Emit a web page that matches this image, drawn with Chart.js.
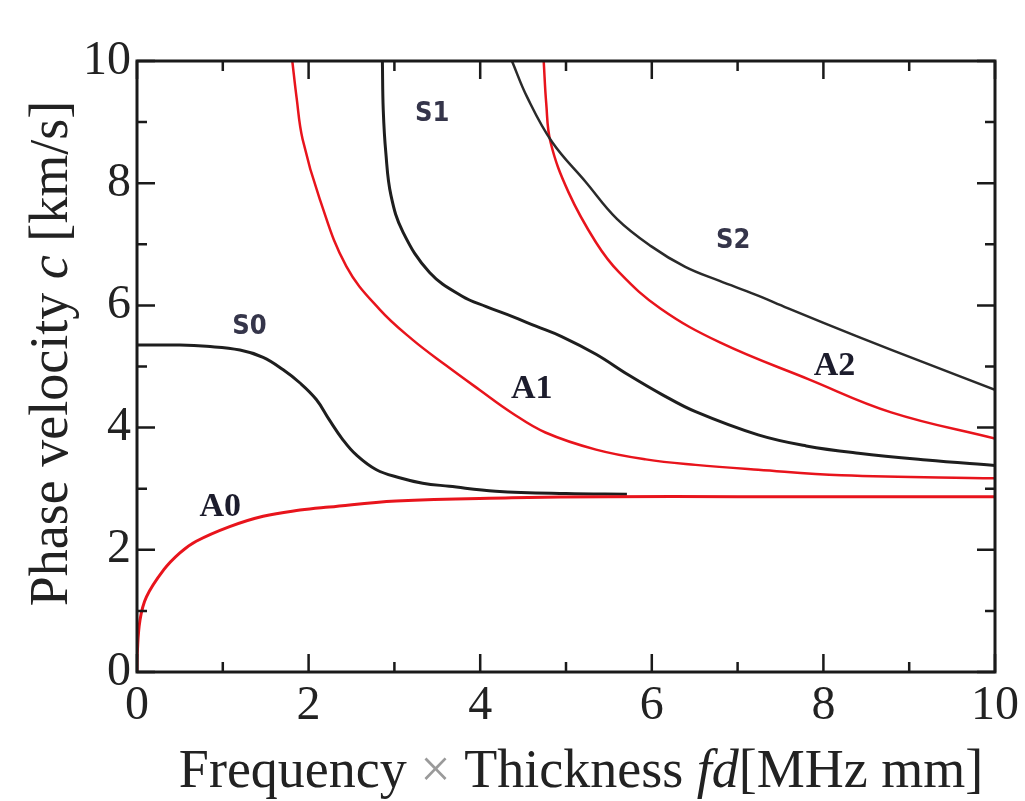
<!DOCTYPE html>
<html lang="en">
<head>
<meta charset="utf-8">
<title>Dispersion curves</title>
<style>
    html, body { margin: 0; padding: 0; background: #fff; }
    #wrap { width: 1025px; height: 801px; }
</style>
</head>
<body>
<div id="wrap">
    <canvas id="myChart" width="1025" height="801"></canvas>
</div>

<script src="https://cdn.jsdelivr.net/npm/chart.js"></script>
<script>
    // values: fd [MHz mm] -> phase velocity [km/s]
    const a0Fd = [0, 0.003, 0.035, 0.11, 0.31, 0.5, 0.69, 1.08, 1.47, 1.9, 2.24, 3.02, 4.37, 5.5, 7, 8.5, 10];
    const a0C  = [0, 0.3, 0.85, 1.23, 1.67, 1.95, 2.14, 2.38, 2.55, 2.65, 2.7, 2.8, 2.85, 2.87, 2.87, 2.87, 2.87];

    const s0Fd = [0, 0.5, 0.81, 1.2, 1.47, 1.7, 1.9, 2.09, 2.24, 2.4, 2.55, 2.79, 3.06, 3.33, 3.64, 4.18, 5, 5.71];
    const s0C  = [5.35, 5.35, 5.33, 5.27, 5.15, 4.95, 4.73, 4.46, 4.13, 3.8, 3.56, 3.31, 3.18, 3.09, 3.04, 2.96, 2.92, 2.91];

    const a1Fd = [1.81, 1.86, 1.93, 2.13, 2.44, 2.83, 3.21, 3.6, 3.99, 4.37, 4.76, 5.35, 5.93, 6.51, 7.24, 8.21, 10];
    const a1C  = [10, 9.4, 8.72, 7.74, 6.64, 5.93, 5.44, 5.02, 4.62, 4.24, 3.92, 3.64, 3.48, 3.39, 3.31, 3.22, 3.17];

    const s1Fd = [2.86, 2.87, 2.9, 2.96, 3.1, 3.41, 3.79, 4.07, 4.37, 4.65, 4.95, 5.35, 5.73, 6.12, 6.51, 7.24, 7.8, 8.41, 9.2, 10];
    const s1C  = [10, 9.2, 8.5, 7.8, 7.2, 6.54, 6.15, 5.98, 5.82, 5.66, 5.49, 5.2, 4.86, 4.54, 4.26, 3.88, 3.7, 3.58, 3.47, 3.38];

    const s2Fd = [4.37, 4.55, 4.84, 5.23, 5.59, 5.99, 6.39, 6.79, 7.2, 7.59, 8.4, 9.2, 10];
    const s2C  = [10, 9.4, 8.67, 8.02, 7.42, 6.97, 6.63, 6.4, 6.18, 5.95, 5.49, 5.05, 4.62];

    const a2Fd = [4.74, 4.77, 4.82, 5.03, 5.35, 5.62, 6.1, 6.8, 7.83, 8.79, 10];
    const a2C  = [10, 9.3, 8.67, 7.85, 7.03, 6.54, 5.95, 5.39, 4.79, 4.25, 3.82];

    // mode names and where they sit (in data units)
    const modeNames = ["S0", "S1", "S2", "A0", "A1", "A2"];
    const modeLabelFd = [1.31, 3.44, 6.95, 0.97, 4.6, 8.13];
    const modeLabelC  = [5.64, 9.13, 7.05, 2.7, 4.62, 5.0];

    const xTitle = [
        {t: "Frequency ", style: ""},
        {t: "\u00d7", style: "", color: "#9a9a9a"},
        {t: " Thickness ", style: ""},
        {t: "fd", style: "italic "},
        {t: "[MHz mm]", style: ""}
    ];
    const yTitle = [
        {t: "Phase velocity ", style: ""},
        {t: "c", style: "italic "},
        {t: " [km/s]", style: ""}
    ];

    const RED = "#e8141c";
    const BLACK = "#1e1e1e";
    const SERIF = "'Liberation Serif', 'DejaVu Serif', serif";

    function pts(xs, ys) {
        return xs.map(function (x, i) { return {x: x, y: ys[i]}; });
    }

    function curve(label, xs, ys, color, width) {
        return {
            label: label,
            data: pts(xs, ys),
            borderColor: color,
            backgroundColor: color,
            borderWidth: width,
            pointRadius: 0,
            fill: false,
            tension: 0.4
        };
    }

    function drawRich(ctx, parts, size, x, y) {
        var total = 0;
        parts.forEach(function (p) {
            ctx.font = p.style + size + "px " + SERIF;
            total += ctx.measureText(p.t).width;
        });
        var cx = x - total / 2;
        parts.forEach(function (p) {
            ctx.font = p.style + size + "px " + SERIF;
            ctx.fillStyle = p.color || "#222";
            ctx.fillText(p.t, cx, y);
            cx += ctx.measureText(p.t).width;
        });
    }

    const framePlugin = {
        id: "frame",
        afterDatasetsDraw: function (chart) {
            var ctx = chart.ctx;
            var a = chart.chartArea;
            var xs = chart.scales.x, ys = chart.scales.y;
            ctx.save();
            ctx.strokeStyle = "#1a1a1a";
            ctx.lineWidth = 3;
            ctx.strokeRect(a.left, a.top, a.right - a.left, a.bottom - a.top);

            // inward ticks on all four sides
            ctx.lineWidth = 2.5;
            for (var v = 0; v <= 10; v++) {
                var len = v % 2 === 0 ? 18 : 10;
                var px = xs.getPixelForValue(v);
                var py = ys.getPixelForValue(v);
                ctx.beginPath();
                ctx.moveTo(px, a.bottom); ctx.lineTo(px, a.bottom - len);
                ctx.moveTo(px, a.top); ctx.lineTo(px, a.top + len);
                ctx.moveTo(a.left, py); ctx.lineTo(a.left + len, py);
                ctx.moveTo(a.right, py); ctx.lineTo(a.right - len, py);
                ctx.stroke();
            }

            // mode labels
            ctx.textAlign = "center";
            ctx.textBaseline = "middle";
            modeNames.forEach(function (name, i) {
                if (name[0] === "S") {
                    ctx.font = "bold 27px 'DejaVu Sans Condensed', 'DejaVu Sans', sans-serif";
                    ctx.fillStyle = "#35354a";
                } else {
                    ctx.font = "bold 34px " + SERIF;
                    ctx.fillStyle = "#1c1c2c";
                }
                ctx.fillText(name, xs.getPixelForValue(modeLabelFd[i]), ys.getPixelForValue(modeLabelC[i]));
            });

            // axis titles
            ctx.textAlign = "left";
            ctx.textBaseline = "alphabetic";
            drawRich(ctx, xTitle, 54, (a.left + a.right) / 2 + 15, 787);
            ctx.translate(67, (a.top + a.bottom) / 2 - 13);
            ctx.rotate(-Math.PI / 2);
            drawRich(ctx, yTitle, 54, 0, 0);
            ctx.restore();
        }
    };

    var tickFont = {family: SERIF, size: 48};

    var myChart = new Chart(document.getElementById("myChart"), {
        type: "line",
        data: {
            datasets: [
                curve("A0", a0Fd, a0C, RED, 3),
                curve("S0", s0Fd, s0C, BLACK, 3),
                curve("A1", a1Fd, a1C, RED, 2.5),
                curve("S1", s1Fd, s1C, BLACK, 3),
                curve("S2", s2Fd, s2C, "#2a2a2a", 2.5),
                curve("A2", a2Fd, a2C, RED, 2.5)
            ]
        },
        options: {
            responsive: false,
            animation: false,
            layout: {padding: {top: 61, right: 28, left: 0, bottom: 0}},
            plugins: {legend: {display: false}, tooltip: {enabled: false}},
            scales: {
                x: {
                    type: "linear", min: 0, max: 10,
                    grid: {display: false, drawTicks: false},
                    border: {display: false},
                    ticks: {
                        stepSize: 2, maxRotation: 0, autoSkip: false, padding: 6,
                        color: "#222", font: tickFont
                    },
                    afterFit: function (s) { s.height = 129; }
                },
                y: {
                    type: "linear", min: 0, max: 10,
                    grid: {display: false, drawTicks: false},
                    border: {display: false},
                    ticks: {
                        stepSize: 2, autoSkip: false, padding: 6,
                        color: "#222", font: tickFont
                    },
                    afterFit: function (s) { s.width = 137; }
                }
            }
        },
        plugins: [framePlugin]
    });
</script>
</body>
</html>
